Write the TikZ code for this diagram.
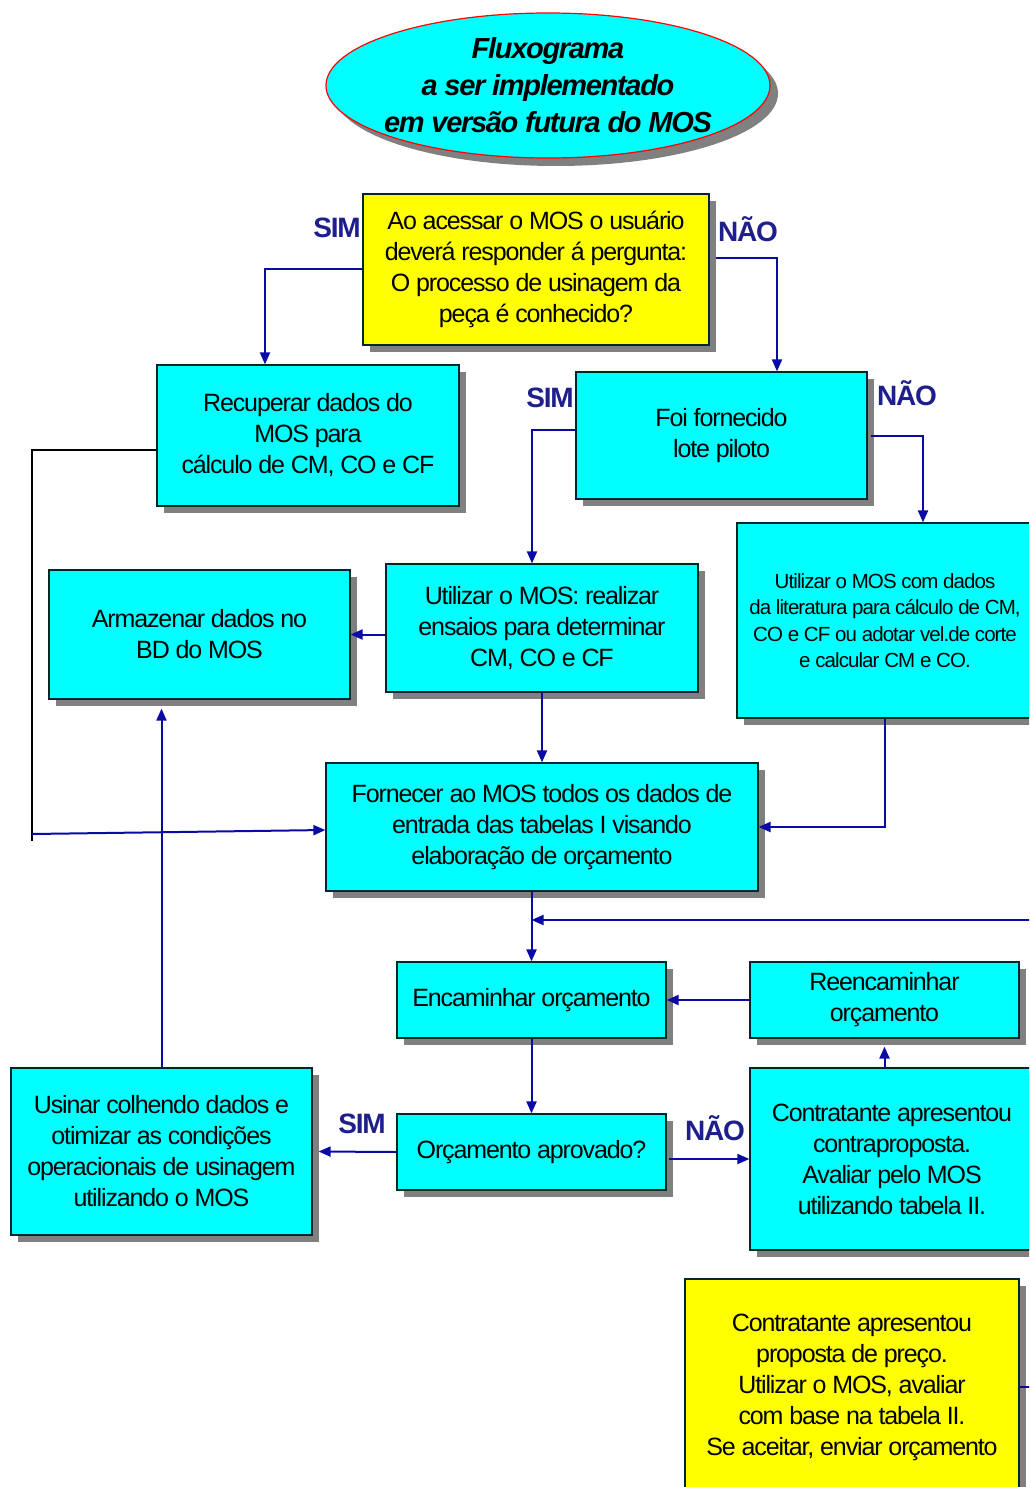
\documentclass[tikz,border=0pt]{standalone}
\usepackage{fontspec}
\setmainfont{Liberation Sans}[LetterSpace=-4.5]
\usetikzlibrary{shapes.geometric,shadows,arrows.meta,calc}
\definecolor{cy}{RGB}{0,255,255}
\definecolor{yl}{RGB}{255,255,0}
\definecolor{lnb}{RGB}{10,10,165}
\definecolor{lab}{RGB}{30,30,140}
\definecolor{shd}{RGB}{128,128,128}
\definecolor{bdr}{RGB}{0,40,40}
\tikzset{
 box/.style={draw=bdr, line width=1.2pt, fill=cy, align=center, inner sep=0pt,
   font=\fontsize{25}{31}\selectfont,
   drop shadow={shadow xshift=7pt, shadow yshift=-7pt, fill=shd, opacity=1}},
 ybox/.style={box, fill=yl},
 lbl/.style={font=\fontsize{28}{30}\selectfont\bfseries, text=lab},
 conn/.style={draw=lnb, line width=2pt, -{Triangle[length=12pt,width=10pt]}},
 plain/.style={draw=black, line width=1.5pt},
}
\begin{document}
\begin{tikzpicture}[x=1pt,y=-1pt]
\useasboundingbox (0,0) rectangle (1029,1487);
\fill[white] (0,0) rectangle (1029,1487);
\clip (0,0) rectangle (1029,1487);

\node[ellipse, draw=red, line width=1.2pt, fill=cy, minimum width=444pt, minimum height=145pt,
  inner xsep=-20pt, inner ysep=-8pt,
  drop shadow={shadow xshift=8pt, shadow yshift=-8pt, fill=shd, opacity=1},
  font=\fontsize{29}{37}\selectfont\bfseries\itshape, align=center] (title) at (548,85.5)
  {Fluxograma\\a ser implementado\\em versão futura do MOS};

\node[ybox, minimum width=346pt, minimum height=151pt] (q1) at (536,269.5)
  {Ao acessar o MOS o usuário\\deverá responder á pergunta:\\O processo de usinagem da\\peça é conhecido?};
\node[box, minimum width=302pt, minimum height=141pt] (rec) at (308,435.5)
  {Recuperar dados do\\MOS para\\cálculo de CM, CO e CF};
\node[box, minimum width=291pt, minimum height=127pt] (foi) at (721.5,435.5)
  {Foi fornecido\\lote piloto};
\node[box, minimum width=312pt, minimum height=128pt] (ut) at (542,628)
  {Utilizar o MOS: realizar\\ensaios para determinar\\CM, CO e CF};
\node[box, minimum width=301pt, minimum height=129pt] (arm) at (199.5,634.5)
  {Armazenar dados no\\BD do MOS};
\node[box, minimum width=296pt, minimum height=195pt, font=\fontsize{20.5}{26.5}\selectfont] (lit) at (885,620.5)
  {Utilizar o MOS com dados\\da literatura para cálculo de CM,\\CO e CF ou adotar vel.de corte\\e calcular CM e CO.};
\node[box, minimum width=432pt, minimum height=128pt] (forn) at (542,827)
  {Fornecer ao MOS todos os dados de\\entrada das tabelas I visando\\elaboração de orçamento};
\node[box, minimum width=269pt, minimum height=76pt] (enc) at (531.5,1000)
  {Encaminhar orçamento};
\node[box, minimum width=269pt, minimum height=76pt] (re) at (884.5,1000)
  {Reencaminhar\\orçamento};
\node[box, minimum width=269pt, minimum height=76pt] (oa) at (531.5,1152)
  {Orçamento aprovado?};
\node[box, minimum width=301pt, minimum height=167pt] (us) at (161.5,1151.5)
  {Usinar colhendo dados e\\otimizar as condições\\operacionais de usinagem\\utilizando o MOS};
\node[box, minimum width=284pt, minimum height=182pt] (ct) at (892,1159)
  {Contratante apresentou\\contraproposta.\\Avaliar pelo MOS\\utilizando tabela II.};
\node[ybox, minimum width=334pt, minimum height=216pt] (y2) at (852,1387)
  {Contratante apresentou\\proposta de preço.\\Utilizar o MOS, avaliar\\com base na tabela II.\\Se aceitar, enviar orçamento};

\node[lbl] (sim1) at (337,228) {SIM};
\node[lbl] (nao1) at (748,229) {NÃO};
\node[lbl] (sim2) at (550,398) {SIM};
\node[lbl] (nao2) at (907,393) {NÃO};
\node[lbl] (sim3) at (362,1124) {SIM};
\node[lbl] (nao3) at (715,1128) {NÃO};

\coordinate (j) at (531.5,920);
\coordinate (lbend) at (32,841);
\coordinate (lf) at (32,834);

\draw[conn] (q1.west) -| ([xshift=-43pt]rec.north);
\draw[conn] ([yshift=11.5pt,xshift=6pt]q1.east) -| ([xshift=55.5pt]foi.north);
\draw[conn] ([yshift=5.5pt]foi.west) -| ([xshift=-10pt]ut.north);
\draw[conn] ([xshift=3pt]foi.east) -| ([xshift=38pt]lit.north);
\draw[conn] (ut.west |- arm.east) -- (arm.east);
\draw[conn] (ut.south) -- (forn.north);
\draw[conn] (lit.south) |- (forn.east);
\draw[conn] (enc.north |- forn.south) -- (enc.north);
\draw[conn] (y2.east) -- ++(20,0) |- (j);
\draw[conn] (re.west) -- (enc.east);
\draw[conn] (re.south |- ct.north) -- ([yshift=-8pt]re.south);
\draw[conn] (enc.south) -- (oa.north);
\draw[conn] (oa.west) -- ([xshift=6pt]us.east);
\draw[conn] ([xshift=2pt]oa.east |- ct.west) -- (ct.west);
\draw[conn] (us.north) -- ([yshift=-9pt]us.north |- arm.south);
\draw[plain] ([yshift=-14.5pt]rec.west) -| (lbend);
\draw[conn] (lf) -- ([yshift=-3pt]forn.west);
\end{tikzpicture}
\end{document}
